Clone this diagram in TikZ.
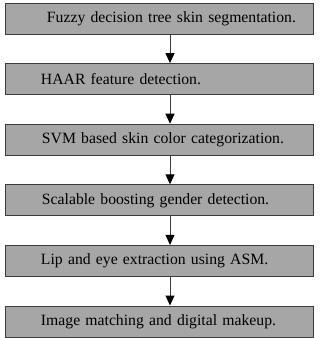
\documentclass[tikz,border=0pt]{standalone}
\usepackage{fontspec}
\setmainfont{Liberation Serif}
\usetikzlibrary{arrows.meta,calc}
\definecolor{boxgray}{HTML}{A6A6A6}
\definecolor{edgegray}{HTML}{3C3C3C}
\tikzstyle{stage}=[rectangle,draw=edgegray,fill=boxgray,line width=1pt,minimum width=308pt,minimum height=31pt,text width=300pt,inner xsep=4pt,align=left,font=\fontsize{15.7}{17}\selectfont]
\tikzstyle{flow} = [draw,line width=1pt,edgegray,-{Triangle[width=9pt,length=10pt,fill=black,color=black]}]

\begin{document}
\begin{tikzpicture}[x=1pt,y=-1pt]
    \useasboundingbox (0,0) rectangle (320,338);

    \foreach \pos/ \name/ \ind/ \txt in {{(159,18.5)/s1/38pt/Fuzzy decision tree skin segmentation.},
        {(159,79.1)/s2/32pt/HAAR feature detection.},
        {(159,139.7)/s3/33pt/SVM based skin color categorization.},
        {(159,200.3)/s4/33pt/Scalable boosting gender detection.},
        {(159,260.9)/s5/32pt/Lip and eye extraction using ASM.},
        {(159,321.5)/s6/32pt/Image matching and digital makeup.}}
        \node[stage] (\name) at \pos {\hspace*{\ind}\txt};

    % arrows between the stages
    \foreach \source/ \dest in {s1/s2, s2/s3, s3/s4, s4/s5, s5/s6}
        \path[flow] ([xshift=11pt]\source.south) -- ([xshift=11pt]\dest.north);

\end{tikzpicture}
\end{document}
